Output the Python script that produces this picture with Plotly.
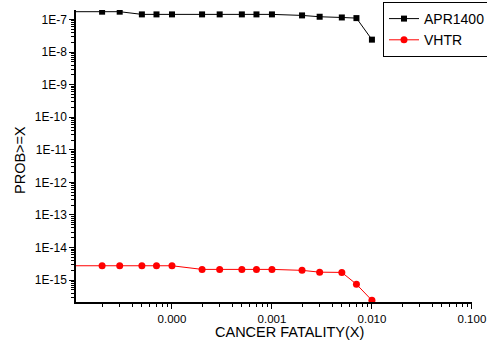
import plotly.graph_objects as go

apr_x = [1e-5, 2e-5, 3e-5, 5e-5, 7e-5, 1e-4, 2e-4, 3e-4, 5e-4, 7e-4, 1e-3, 2e-3, 3e-3, 5e-3, 7e-3, 1e-2]
apr_y = [1.73e-7, 1.73e-7, 1.73e-7, 1.43e-7, 1.43e-7, 1.43e-7, 1.43e-7, 1.43e-7, 1.43e-7, 1.43e-7, 1.43e-7,
         1.33e-7, 1.21e-7, 1.15e-7, 1.1e-7, 2.4e-8]
vhtr_x = [1e-5, 2e-5, 3e-5, 5e-5, 7e-5, 1e-4, 2e-4, 3e-4, 5e-4, 7e-4, 1e-3, 2e-3, 3e-3, 5e-3, 7e-3, 1e-2]
vhtr_y = [2.77e-15, 2.77e-15, 2.77e-15, 2.77e-15, 2.77e-15, 2.77e-15, 2.14e-15, 2.14e-15, 2.14e-15, 2.14e-15,
          2.14e-15, 2.0e-15, 1.76e-15, 1.73e-15, 7.5e-16, 2.4e-16]

x_tickvals = [1e-4, 1e-3, 1e-2, 1e-1]
x_ticktext = ["0.000", "0.001", "0.010", "0.100"]
y_tickvals = [10.0 ** -k for k in range(7, 16)]
y_ticktext = ["1E-%d" % k for k in range(7, 16)]

W, H = 487, 342
ML, MR, MT, MB = 76, 15, 10, 40
PW, PH = W - ML - MR, H - MT - MB
FAM = "Liberation Sans, Arial, sans-serif"

fig = go.Figure()
fig.add_trace(go.Scatter(x=apr_x, y=apr_y, name="APR1400", mode="lines+markers",
                         line=dict(color="#000000", width=1),
                         marker=dict(symbol="square", size=6, color="#000000")))
fig.add_trace(go.Scatter(x=vhtr_x, y=vhtr_y, name="VHTR", mode="lines+markers",
                         line=dict(color="#ff0000", width=1),
                         marker=dict(symbol="circle", size=7, color="#ff0000")))

fig.update_layout(
    width=W, height=H,
    margin=dict(l=ML, r=MR, t=MT, b=MB, autoexpand=False),
    paper_bgcolor="white", plot_bgcolor="white",
    font=dict(family=FAM, size=12, color="#000000"),
    showlegend=True,
    legend=dict(x=(383 - ML) / PW, y=1 + 8 / PH, xref="paper", yref="paper",
                xanchor="left", yanchor="top",
                bordercolor="#000000", borderwidth=1, bgcolor="white",
                font=dict(family=FAM, size=14, color="#000000"),
                tracegroupgap=0, itemwidth=30),
    annotations=[
        dict(text="CANCER FATALITY(X)", xref="paper", yref="paper",
             x=(289 - ML) / PW, y=-(332 - (H - MB)) / PH,
             xanchor="center", yanchor="middle", showarrow=False,
             font=dict(family=FAM, size=14.5, color="#000000")),
        dict(text="PROB>=X", xref="paper", yref="paper", textangle=-90,
             x=-(ML - 20) / PW, y=1 - (160 - MT) / PH,
             xanchor="center", yanchor="middle", showarrow=False,
             font=dict(family=FAM, size=14.5, color="#000000")),
    ],
)
fig.update_xaxes(type="log", range=[-4.96, -0.999], tickvals=x_tickvals, ticktext=x_ticktext,
                 ticks="outside", ticklen=5, tickwidth=1, tickcolor="#000000", automargin=False,
                 ticklabeloverflow="allow", tickfont=dict(size=11.5),
                 showline=True, linecolor="#000000", linewidth=1.5, showgrid=False, zeroline=False,
                 minor=dict(ticks="outside", ticklen=3, tickcolor="#000000", dtick="D1", showgrid=False))
fig.update_yaxes(type="log", range=[-15.67, -6.71], tickvals=y_tickvals, ticktext=y_ticktext,
                 ticks="outside", ticklen=5, tickwidth=1, tickcolor="#000000", automargin=False,
                 ticklabeloverflow="allow",
                 showline=True, linecolor="#000000", linewidth=1.5, showgrid=False, zeroline=False,
                 minor=dict(ticks="outside", ticklen=3, tickcolor="#000000", dtick="D1", showgrid=False))

fig.write_html("out.html", config={"displayModeBar": False},
               post_script="document.body.style.margin='0';")
